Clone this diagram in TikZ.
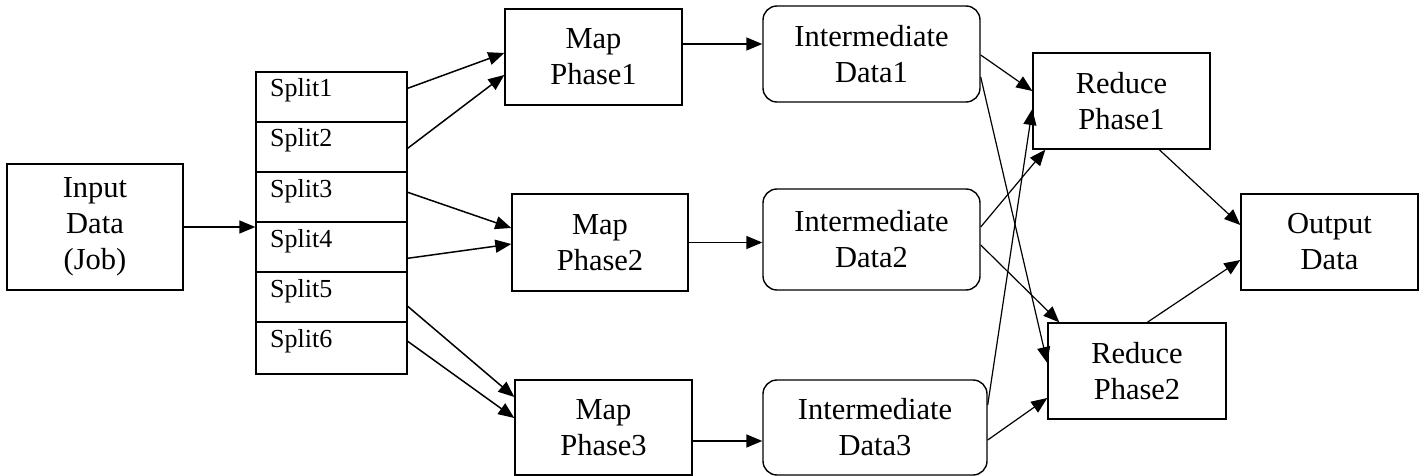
\documentclass[tikz,border=0pt]{standalone}
\usepackage{fontspec}
\setmainfont{Liberation Serif}
\usetikzlibrary{arrows.meta}
\begin{document}
\begin{tikzpicture}[x=1pt,y=-1pt,
  box/.style={draw,line width=1.4pt,align=center,inner sep=0pt,font=\fontsize{30.5}{36}\selectfont},
  rbox/.style={box,rounded corners=14pt},
  cell/.style={draw,line width=1.4pt,inner sep=0pt,minimum width=151pt},
  celltext/.style={anchor=base west,inner sep=0pt,font=\fontsize{26}{30}\selectfont},
  arr/.style={line width=1.5pt,-{Triangle[length=16pt,width=13pt]}},
  tarr/.style={line width=1.2pt,-{Triangle[length=16pt,width=13pt]}}]
\useasboundingbox (0,0) rectangle (1422,476);

\node[box,minimum width=176pt,minimum height=126pt] (in) at (95,227) {Input\\Data\\(Job)};

\node[cell,minimum height=50pt] (s1) at (331.5,97) {};
\node[cell,minimum height=50pt] (s2) at (331.5,147) {};
\node[cell,minimum height=50pt] (s3) at (331.5,197) {};
\node[cell,minimum height=50pt] (s4) at (331.5,247) {};
\node[cell,minimum height=50pt] (s5) at (331.5,297) {};
\node[cell,minimum height=52pt] (s6) at (331.5,348) {};
\node[celltext] (t1) at (270,97) {Split1};
\node[celltext] (t2) at (270,147) {Split2};
\node[celltext] (t3) at (270,197) {Split3};
\node[celltext] (t4) at (270,247) {Split4};
\node[celltext] (t5) at (270,297) {Split5};
\node[celltext] (t6) at (270,347) {Split6};

\node[box,minimum width=177pt,minimum height=96pt] (m1) at (593.5,57) {Map\\Phase1};
\node[box,minimum width=176pt,minimum height=97pt] (m2) at (600,242.5) {Map\\Phase2};
\node[box,minimum width=177pt,minimum height=95pt] (m3) at (603.5,427.5) {Map\\Phase3};

\node[rbox,minimum width=217pt,minimum height=96pt] (i1) at (871.5,54) {Intermediate\\Data1};
\node[rbox,minimum width=217pt,minimum height=101pt] (i2) at (871.5,239.5) {Intermediate\\Data2};
\node[rbox,minimum width=224pt,minimum height=95pt] (i3) at (875,427.5) {Intermediate\\Data3};

\node[box,minimum width=177pt,minimum height=96pt] (r1) at (1121.5,101) {Reduce\\Phase1};
\node[box,minimum width=178pt,minimum height=96pt] (r2) at (1137,371) {Reduce\\Phase2};
\node[box,minimum width=177pt,minimum height=96pt] (out) at (1329.5,242) {Output\\Data};

% input -> splits
\draw[arr] (in.east) -- (in.east -| s1.west);

% splits -> maps
\draw[arr] ([yshift=-17pt]s1.north east) -- ([yshift=4pt]m1.west);
\draw[arr] ([yshift=-27pt]s2.north east) -- ([yshift=-18pt]m1.west);
\draw[arr] ([yshift=-21pt]s3.north east) -- ([yshift=14.5pt]m2.west);
\draw[arr] ([yshift=-37pt]s4.north east) -- ([yshift=-1.5pt]m2.west);
\draw[arr] ([yshift=-35pt]s5.north east) -- ([yshift=30.5pt]m3.west);
\draw[arr] ([yshift=-20pt]s6.north east) -- ([yshift=9.5pt]m3.west);

% maps -> intermediate
\draw[arr] ([yshift=13pt]m1.east) -- ([yshift=13pt]m1.east -| i1.west);
\draw[arr] (m2.east) -- (m2.east -| i2.west);
\draw[arr] ([yshift=-13.5pt]m3.east) -- ([yshift=-13.5pt]m3.east -| i3.west);

% intermediate -> reduce
\draw[tarr] ([yshift=-1pt]i1.east) -- ([yshift=10pt]r1.west);
\draw[tarr] ([yshift=-23pt]i1.east) -- ([yshift=8pt]r2.west);
\draw[tarr] ([yshift=12.5pt]i2.east) -- ([xshift=13pt]r1.south west);
\draw[tarr] ([yshift=-5.5pt]i2.east) -- ([xshift=12pt]r2.north west);
\draw[tarr] ([yshift=22.5pt]i3.east) -- ([yshift=-8pt]r1.west);
\draw[tarr] ([yshift=-12.5pt]i3.east) -- ([yshift=-27pt]r2.west);

% reduce -> output
\draw[tarr] ([xshift=127pt]r1.south west) -- ([yshift=17pt]out.west);
\draw[tarr] ([xshift=100pt]r2.north west) -- ([yshift=-18pt]out.west);
\end{tikzpicture}
\end{document}
